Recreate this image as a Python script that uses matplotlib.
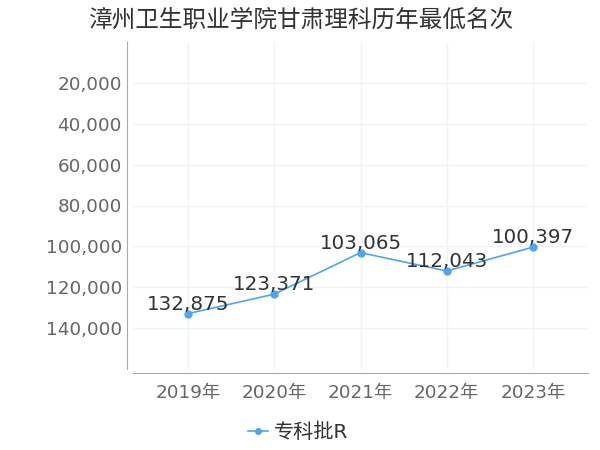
import matplotlib
matplotlib.use("Agg")
import matplotlib.pyplot as plt
from matplotlib.ticker import FuncFormatter

plt.rcParams["font.family"] = ["DejaVu Sans", "Noto Sans CJK SC"]

TITLE = "漳州卫生职业学院甘肃理科历年最低名次"
YEARS = ["2019年", "2020年", "2021年", "2022年", "2023年"]
RANKS = [132875, 123371, 103065, 112043, 100397]
SERIES_NAME = "专科批R"
Y_TICKS = [20000, 40000, 60000, 80000, 100000, 120000, 140000]

LINE_COLOR = "#4da6f5"
TEXT_COLOR = "#333333"
TICK_COLOR = "#666666"
GRID_COLOR = "#f3f3f3"
SPINE_COLOR = "#aaaaaa"

fig = plt.figure(figsize=(6.0, 4.5), dpi=100)
ax = fig.add_axes([133 / 600, 1 - 369 / 450, 455 / 600, 327 / 450])

x = list(range(len(YEARS)))
ax.plot(x, RANKS, color=LINE_COLOR, linewidth=1.2, marker="o", markersize=5,
        label=SERIES_NAME, zorder=3)
for xi, v in zip(x, RANKS):
    ax.annotate(f"{v:,}", (xi, v), xytext=(0, 0), textcoords="offset points",
                ha="center", va="bottom", fontsize=14.3, color=TEXT_COLOR, zorder=4)

ax.set_xlim(-0.64, 4.64)
ax.set_ylim(160000, 0)
ax.set_xticks(x)
ax.set_xticklabels(YEARS)
ax.set_yticks(Y_TICKS)
ax.yaxis.set_major_formatter(FuncFormatter(lambda v, p: f"{int(v):,}"))
ax.tick_params(axis="both", length=0, labelsize=13.2, labelcolor=TICK_COLOR)
ax.tick_params(axis="y", pad=4)
ax.tick_params(axis="x", pad=8)
ax.grid(True, color=GRID_COLOR, linewidth=1)
ax.set_axisbelow(True)

for s in ("top", "right"):
    ax.spines[s].set_visible(False)
ax.spines["left"].set_color(SPINE_COLOR)
ax.spines["bottom"].set_color(SPINE_COLOR)
ax.spines["left"].set_position(("outward", 4))
ax.spines["bottom"].set_position(("outward", 3))

fig.text(302 / 600, 1 - 20 / 450, TITLE, ha="center", va="center",
         fontsize=17, color=TEXT_COLOR)

fig.legend(loc="center", bbox_to_anchor=(298 / 600, 1 - 432 / 450), frameon=False,
           fontsize=14.5, labelcolor=TEXT_COLOR, handlelength=1.0, handletextpad=0.3,
           markerscale=0.8)

fig.savefig("out.png", dpi=100)
